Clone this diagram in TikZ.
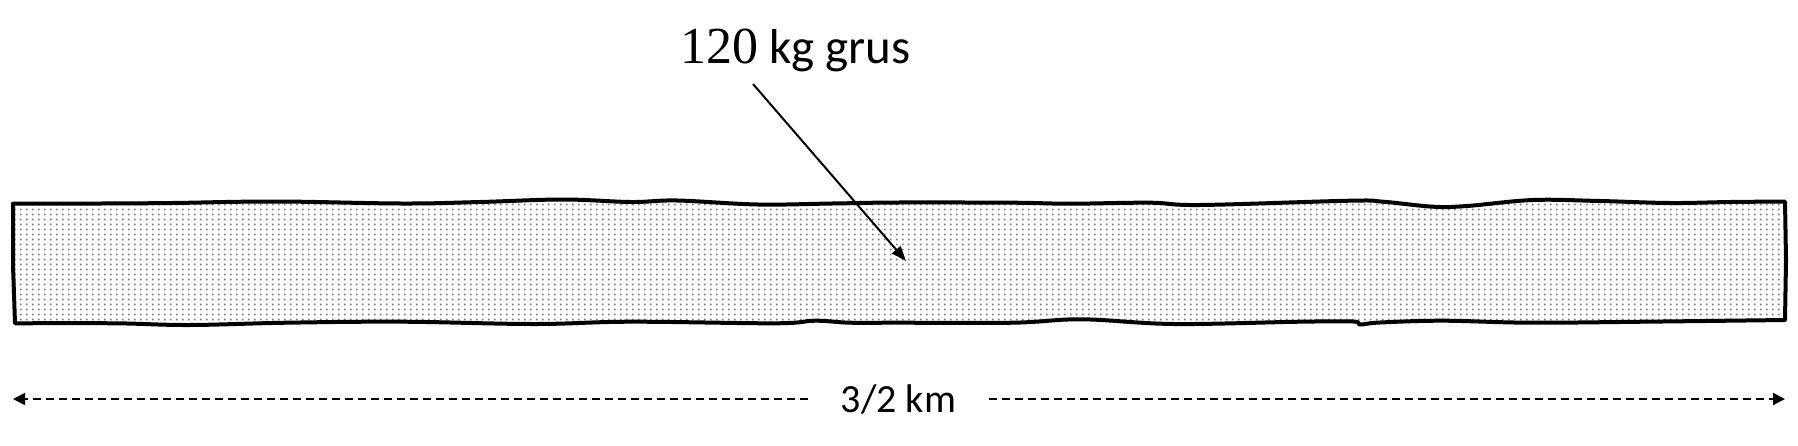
\documentclass[tikz,border=0pt]{standalone}
\usepackage{fontspec}
\newfontfamily\carlito{Carlito}
\newfontfamily\numserif{Liberation Serif}
\usetikzlibrary{arrows.meta,patterns.meta}
\tikzdeclarepattern{
  name=gravel,
  type=uncolored,
  bounding box={(0pt,0pt) and (6.2pt,5.4pt)},
  tile size={(6.2pt,5.4pt)},
  code={\fill (2.1pt,1.7pt) rectangle (4.1pt,3.7pt);}
}
\tikzset{
  bandline/.style={line width=4pt, line join=round, draw=black},
  bandfill/.style={pattern=gravel, pattern color=black!50},
  leader/.style={line width=2pt, -{Triangle[length=15pt,width=11pt]}},
  dimline/.style={line width=2pt, dash pattern=on 8pt off 5pt, -{Triangle[length=12pt,width=12pt]}},
}
\begin{document}
\begin{tikzpicture}[x=1pt,y=-1pt]
\useasboundingbox (0,0) rectangle (1798,445);
% band
\def\bandpath{plot[smooth,tension=0.6] coordinates {
 (13,203.5) (100,203.5) (172,203) (276,201.5) (402,203.5) (480,202) (563,199.5)
 (631,202) (677,200.5) (758,204.5) (832,203.5) (898,202.5) (1013,202.7)
 (1070,203.7) (1150,202.7) (1200,205) (1350,200.7) (1383,201.7) (1433,206.7)
 (1467,206) (1533,200) (1600,201) (1670,203) (1730,202) (1785,201.5)}
 -- (1786,260)
 -- plot[smooth,tension=0.6] coordinates {
 (1785,320) (1644,321.7) (1530,322.7) (1443,320.7) (1380,322.5) (1360,324.5)
 (1353,321.5) (1300,321.7) (1174,324) (1082,319.3) (1013,322.7) (898,322.7)
 (850,322.7) (815,320.7) (775,323.3) (631,321.7) (534,324) (402,321.7)
 (287,322.7) (189,325) (115,323.3) (15,323.3)}
 -- (13,265) -- cycle}
\fill[white] \bandpath;
\fill[bandfill] \bandpath;
\draw[bandline] \bandpath;
% label and leader
\node[anchor=base west, inner sep=0pt] (label) at (680,63)
  {{\numserif\fontsize{52}{60}\selectfont 120}{\carlito\fontsize{49}{58}\selectfont\ kg grus}};
\coordinate (a0) at (753,84);
\coordinate (a1) at (906,261);
\draw[leader] (a0) -- (a1);
% dimension
\node[inner xsep=32.5pt, inner ysep=0pt, text height=26pt, text depth=0pt] (dim) at (898.5,399)
  {\carlito\fontsize{40}{48}\selectfont 3/2 km};
\coordinate (dL) at (13,399);
\coordinate (dR) at (1785,399);
\draw[dimline] (dim.west) -- (dL);
\draw[dimline] (dim.east) -- (dR);
\end{tikzpicture}
\end{document}
